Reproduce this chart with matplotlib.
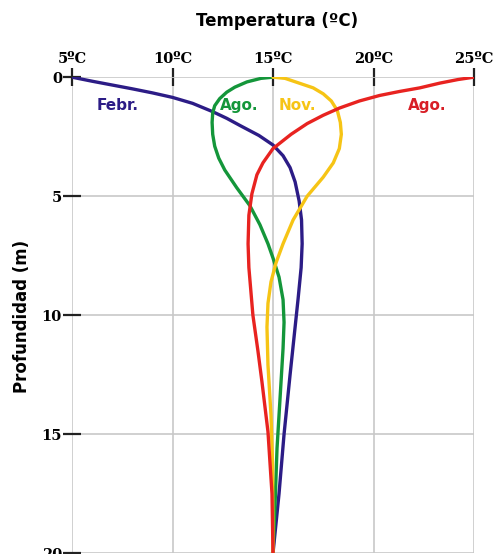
import matplotlib
matplotlib.use("Agg")
import matplotlib.pyplot as plt

# perfiles de temperatura (temp en ºC, profundidad en m)
febr_t = [5.0, 6.0, 7.0, 8.0, 9.0, 10.0, 11.0, 12.0, 12.7, 13.4, 14.3, 15.0, 15.5, 15.85,
          16.1, 16.3, 16.42, 16.45, 16.4, 16.25, 16.1, 15.85, 15.55, 15.3, 15.0]
febr_z = [0.0, 0.17, 0.33, 0.49, 0.66, 0.85, 1.1, 1.45, 1.73, 2.05, 2.45, 2.85, 3.3, 3.8,
          4.4, 5.2, 6.0, 7.0, 8.0, 9.3, 10.5, 12.5, 15.0, 17.5, 20.0]

ago_t = [15.0, 14.4, 13.7, 13.1, 12.7, 12.35, 12.1, 12.0, 11.97, 12.0, 12.1, 12.3, 12.6, 13.2,
         13.85, 14.35, 14.75, 15.0, 15.3, 15.5, 15.55, 15.5, 15.35, 15.2, 15.1, 15.0]
ago_z = [0.0, 0.05, 0.2, 0.42, 0.63, 0.9, 1.2, 1.5, 1.9, 2.4, 2.9, 3.4, 3.9, 4.65,
         5.4, 6.2, 7.0, 7.6, 8.4, 9.35, 10.3, 11.4, 13.5, 15.6, 18.0, 20.0]

nov_t = [15.0, 15.6, 16.3, 17.0, 17.5, 17.9, 18.2, 18.35, 18.4, 18.3, 18.0, 17.5, 16.7, 16.0,
         15.5, 15.15, 14.9, 14.75, 14.7, 14.75, 14.9, 14.98, 15.0]
nov_z = [0.0, 0.05, 0.25, 0.45, 0.7, 1.0, 1.4, 1.9, 2.4, 3.0, 3.6, 4.2, 5.0, 6.0,
         7.0, 7.8, 8.6, 9.5, 10.5, 12.1, 14.2, 16.3, 20.0]

ago2_t = [25.0, 24.2, 23.3, 22.3, 21.3, 20.3, 19.3, 18.3, 17.5, 16.7, 15.9, 15.0, 14.5,
          14.2, 13.95, 13.8, 13.76, 13.8, 13.9, 14.0, 14.25, 14.45, 14.75, 14.95, 15.0]
ago2_z = [0.0, 0.1, 0.25, 0.45, 0.6, 0.77, 1.0, 1.3, 1.6, 1.95, 2.4, 3.0, 3.6,
          4.1, 4.9, 5.8, 7.0, 8.0, 9.0, 10.0, 11.5, 12.8, 14.9, 17.5, 20.0]

x_ticks = [5, 10, 15, 20, 25]
x_labels = ["5ºC", "10ºC", "15ºC", "20ºC", "25ºC"]
y_ticks = [0, 5, 10, 15, 20]

c_febr = "#2c1c86"
c_ago = "#14963a"
c_nov = "#f6c415"
c_ago2 = "#e82320"

fig = plt.figure(figsize=(4.95, 5.54), dpi=100)
ax = fig.add_axes([72 / 495, 0.0015, (474 - 72) / 495, (553 - 77) / 554])

kw = dict(lw=2.4, solid_joinstyle="round", solid_capstyle="round")
ax.plot(febr_t, febr_z, color=c_febr, zorder=3, **kw)
ax.plot(ago_t, ago_z, color=c_ago, zorder=3, **kw)
ax.plot(nov_t, nov_z, color=c_nov, zorder=3, **kw)
ax.plot(ago2_t, ago2_z, color=c_ago2, zorder=4, **kw)

ax.set_xlim(5, 25)
ax.set_ylim(20, 0)
ax.xaxis.tick_top()
ax.set_xticks(x_ticks)
ax.set_xticklabels(x_labels, fontfamily="DejaVu Serif", fontweight="bold", fontsize=10.5)
ax.set_yticks(y_ticks)
ax.set_yticklabels([str(v) for v in y_ticks], fontfamily="DejaVu Serif", fontweight="bold", fontsize=10.5)
ax.tick_params(axis="both", direction="inout", length=12.5, width=1.6, color="#222222")
ax.tick_params(axis="x", pad=2)
ax.tick_params(axis="y", pad=1)
ax.grid(True, color="#c8c8c8", lw=1.2)
ax.set_axisbelow(True)
for s in ax.spines.values():
    s.set_visible(False)

# etiquetas de las curvas
ax.text(7.25, 1.2, "Febr.", color=c_febr, fontsize=11, fontweight="bold", ha="center", va="center")
ax.text(13.3, 1.2, "Ago.", color=c_ago, fontsize=11, fontweight="bold", ha="center", va="center")
ax.text(16.2, 1.2, "Nov.", color=c_nov, fontsize=11, fontweight="bold", ha="center", va="center")
ax.text(22.65, 1.2, "Ago.", color="#d81e26", fontsize=11, fontweight="bold", ha="center", va="center")

fig.text(277 / 495, 1 - 21 / 554, "Temperatura (ºC)", fontsize=12, fontweight="bold", ha="center", va="center")
fig.text(22 / 495, 1 - 316 / 554, "Profundidad (m)", fontsize=12, fontweight="bold", ha="center", va="center", rotation=90)

fig.savefig("out.png", dpi=100)
